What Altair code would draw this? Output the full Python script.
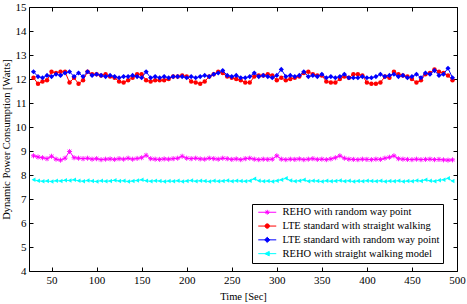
import altair as alt
import pandas as pd

time_sec = list(range(30, 500, 5))

reho_rwp = [8.8, 8.75, 8.72, 8.68, 8.78, 8.66, 8.62, 8.7, 8.98, 8.72, 8.7, 8.68, 8.7, 8.66, 8.68, 8.64, 8.66, 8.67, 8.65, 8.68, 8.66, 8.7, 8.66, 8.69,
            8.72, 8.82, 8.68, 8.66, 8.65, 8.67, 8.66, 8.68, 8.7, 8.78, 8.7, 8.68, 8.7, 8.67, 8.66, 8.7, 8.68, 8.66, 8.7, 8.68, 8.65, 8.67, 8.64,
            8.68, 8.7, 8.66, 8.64, 8.66, 8.65, 8.66, 8.8, 8.66, 8.64, 8.66, 8.65, 8.67, 8.64, 8.66, 8.68, 8.65, 8.66, 8.64, 8.67, 8.72, 8.8, 8.7,
            8.66, 8.65, 8.64, 8.66, 8.65, 8.64, 8.66, 8.65, 8.7, 8.74, 8.8, 8.68, 8.66, 8.65, 8.64, 8.66, 8.64, 8.65, 8.66, 8.64, 8.65, 8.63, 8.62, 8.63]

lte_sw = [12.05, 11.8, 11.9, 11.95, 12.3, 12.25, 12.3, 12.3, 11.85, 12.05, 11.8, 11.95, 12.3, 12.2, 12.2, 12.15, 12.2, 12.1, 12.05, 11.9, 11.85, 11.95, 12.05, 12.2,
          12.2, 11.95, 11.9, 11.95, 11.95, 11.95, 12.0, 12.1, 12.1, 12.15, 12.1, 11.9, 11.85, 11.8, 11.9, 12.1, 12.2, 12.3, 12.25, 12.1, 12.05, 12.0, 11.95,
          11.85, 11.85, 12.1, 12.15, 12.15, 12.2, 12.15, 11.95, 12.05, 11.95, 12.0, 12.05, 12.1, 12.25, 12.3, 12.2, 12.15, 12.15, 11.9, 11.85, 11.85, 12.0, 12.1,
          12.05, 12.2, 12.2, 12.15, 11.85, 11.8, 11.8, 11.85, 12.1, 12.05, 12.3, 12.2, 12.15, 12.1, 12.0, 11.85, 11.95, 12.2, 12.25, 12.4, 12.3, 12.25, 12.15, 11.95]

lte_rwp = [12.3, 12.1, 12.05, 12.15, 12.1, 12.2, 12.15, 12.25, 12.3, 12.1, 12.25, 12.1, 12.3, 12.15, 12.2, 12.15, 12.1, 12.15, 12.1, 12.05, 12.1, 12.1, 12.15, 12.1,
           12.05, 12.3, 12.05, 12.1, 12.05, 12.1, 12.05, 12.1, 12.1, 12.1, 12.05, 12.1, 12.05, 12.1, 12.15, 12.1, 12.2, 12.25, 12.35, 12.15, 12.1, 12.15, 12.05,
           12.05, 12.1, 12.25, 12.1, 12.15, 12.1, 12.05, 12.15, 12.4, 12.1, 12.15, 12.1, 12.15, 12.3, 12.1, 12.15, 12.1, 12.2, 12.05, 12.1, 12.05, 12.1, 12.2,
           12.05, 12.05, 12.05, 12.1, 12.05, 12.05, 12.1, 12.2, 12.1, 12.15, 12.2, 12.1, 12.15, 12.05, 12.1, 12.2, 12.05, 12.25, 12.2, 12.35, 12.15, 12.2, 12.45, 12.05]

reho_sw = [7.8, 7.76, 7.74, 7.75, 7.73, 7.76, 7.75, 7.78, 7.77, 7.8, 7.76, 7.74, 7.77, 7.75, 7.73, 7.76, 7.74, 7.75, 7.78, 7.75, 7.76, 7.73, 7.75, 7.77,
           7.8, 7.76, 7.74, 7.76, 7.75, 7.73, 7.75, 7.74, 7.76, 7.73, 7.75, 7.77, 7.74, 7.76, 7.75, 7.73, 7.76, 7.74, 7.75, 7.77, 7.74, 7.76, 7.75,
           7.74, 7.76, 7.84, 7.76, 7.74, 7.75, 7.73, 7.76, 7.8, 7.86, 7.77, 7.74, 7.76, 7.8, 7.74, 7.76, 7.75, 7.73, 7.76, 7.74, 7.75, 7.77, 7.74,
           7.76, 7.73, 7.75, 7.74, 7.76, 7.75, 7.74, 7.76, 7.73, 7.75, 7.74, 7.76, 7.73, 7.75, 7.74, 7.77, 7.75, 7.8, 7.76, 7.74, 7.78, 7.8, 7.86, 7.75]

series_names = ["REHO with random way point", "LTE standard with straight walking",
                "LTE standard with random way point", "REHO with straight walking model"]
series_colors = ["#FF00FF", "#FF0000", "#0000FF", "#00FFFF"]
x_ticks = [50, 100, 150, 200, 250, 300, 350, 400, 450, 500]
y_ticks = [4, 5, 6, 7, 8, 9, 10, 11, 12, 13, 14, 15]

rows = []
for name, vals in zip(series_names, [reho_rwp, lte_sw, lte_rwp, reho_sw]):
    for t, v in zip(time_sec, vals):
        rows.append({"time": t, "value": v, "series": name})
df = pd.DataFrame(rows)

W, H = 428, 264
FONT = "Liberation Serif"

asterisk = "M-1.2,0H1.2M0,-1.2V1.2M-0.85,-0.85L0.85,0.85M-0.85,0.85L0.85,-0.85"
marker_shapes = [asterisk, "circle", "diamond", "triangle-left"]
marker_sizes = [18, 20, 26, 20]
legend_paths = [
    "M-4.5,0H4.5" + asterisk,
    "M-4.5,0H4.5" + "M-1.1,0A1.1,1.1 0 1,0 1.1,0A1.1,1.1 0 1,0 -1.1,0Z",
    "M-4.5,0H4.5" + "M0,-1.3L1.3,0L0,1.3L-1.3,0Z",
    "M-4.5,0H4.5" + "M-1.2,0L1,-1.1L1,1.1Z",
]

xscale = alt.Scale(domain=[25, 500], nice=False, zero=False)
yscale = alt.Scale(domain=[4, 15], nice=False, zero=False)


def X(axis):
    return alt.X("time:Q", scale=xscale, axis=axis)


def Y(axis):
    return alt.Y("value:Q", scale=yscale, axis=axis)


main_x = alt.Axis(values=x_ticks, title="Time [Sec]", ticks=False, domain=False, grid=False,
                  labelPadding=3, titlePadding=6, labelFlush=False, labelOverlap=False)
main_y = alt.Axis(values=y_ticks, title="Dynamic Power Consumption [Watts]", ticks=False, domain=False,
                  grid=False, labelPadding=3, titlePadding=4, labelOverlap=False)
tick_common = dict(labels=False, domain=False, grid=False, ticks=True, tickSize=4,
                   tickColor="black", tickWidth=1, title=None)
bottom_in = alt.Axis(orient="top", offset=-H, values=x_ticks, **tick_common)
top_in = alt.Axis(orient="bottom", offset=-H, values=x_ticks, **tick_common)
left_in = alt.Axis(orient="right", offset=-W, values=y_ticks, **tick_common)
right_in = alt.Axis(orient="left", offset=-W, values=y_ticks, **tick_common)

base = alt.Chart(df)

axes_plan = [
    ((main_x, main_y), (bottom_in, left_in)),
    ((top_in, right_in), (None, None)),
    ((None, None), (None, None)),
    ((None, None), (None, None)),
]

layers = []
for i, name in enumerate(series_names):
    sub = base.transform_filter(alt.datum.series == name)
    (lx, ly), (px, py) = axes_plan[i]
    layers.append(sub.mark_line(color=series_colors[i], strokeWidth=1).encode(x=X(lx), y=Y(ly)))
    filled = marker_shapes[i] != asterisk
    layers.append(sub.mark_point(color=series_colors[i], shape=marker_shapes[i], filled=filled,
                                 size=marker_sizes[i], strokeWidth=0.9, opacity=1).encode(x=X(px), y=Y(py)))

leg = alt.Legend(title=None, orient="none", legendX=223, legendY=197, strokeColor="black",
                 fillColor="white", padding=3, symbolSize=16, symbolStrokeWidth=1, symbolOffset=7,
                 labelOffset=10, labelFont=FONT, labelFontSize=10.5, labelColor="black",
                 rowPadding=2.8)

# legend carrier: same records, placed above the plot's y range and clipped away
legend_layer = base.mark_point(filled=True, size=16, strokeWidth=1, opacity=1, clip=True).encode(
    x=X(None), y=alt.datum(100, scale=yscale, axis=None),
    shape=alt.Shape("series:N", scale=alt.Scale(domain=series_names, range=legend_paths), legend=leg),
    fill=alt.Fill("series:N", scale=alt.Scale(domain=series_names, range=series_colors), legend=leg),
    stroke=alt.Stroke("series:N", scale=alt.Scale(domain=series_names, range=series_colors), legend=leg),
)
layers.append(legend_layer)

chart = alt.layer(*layers).resolve_axis(
    x="independent", y="independent"
).properties(
    width=W, height=H,
    padding={"left": 1, "top": 1, "right": 1, "bottom": 3},
    background="white",
).configure_view(stroke="black", strokeWidth=1).configure_axis(
    labelFont=FONT, labelFontSize=11, labelColor="black",
    titleFont=FONT, titleFontSize=10.5, titleFontWeight="normal", titleColor="black",
)

chart.save("out.html", embed_options={"renderer": "svg", "actions": False})
